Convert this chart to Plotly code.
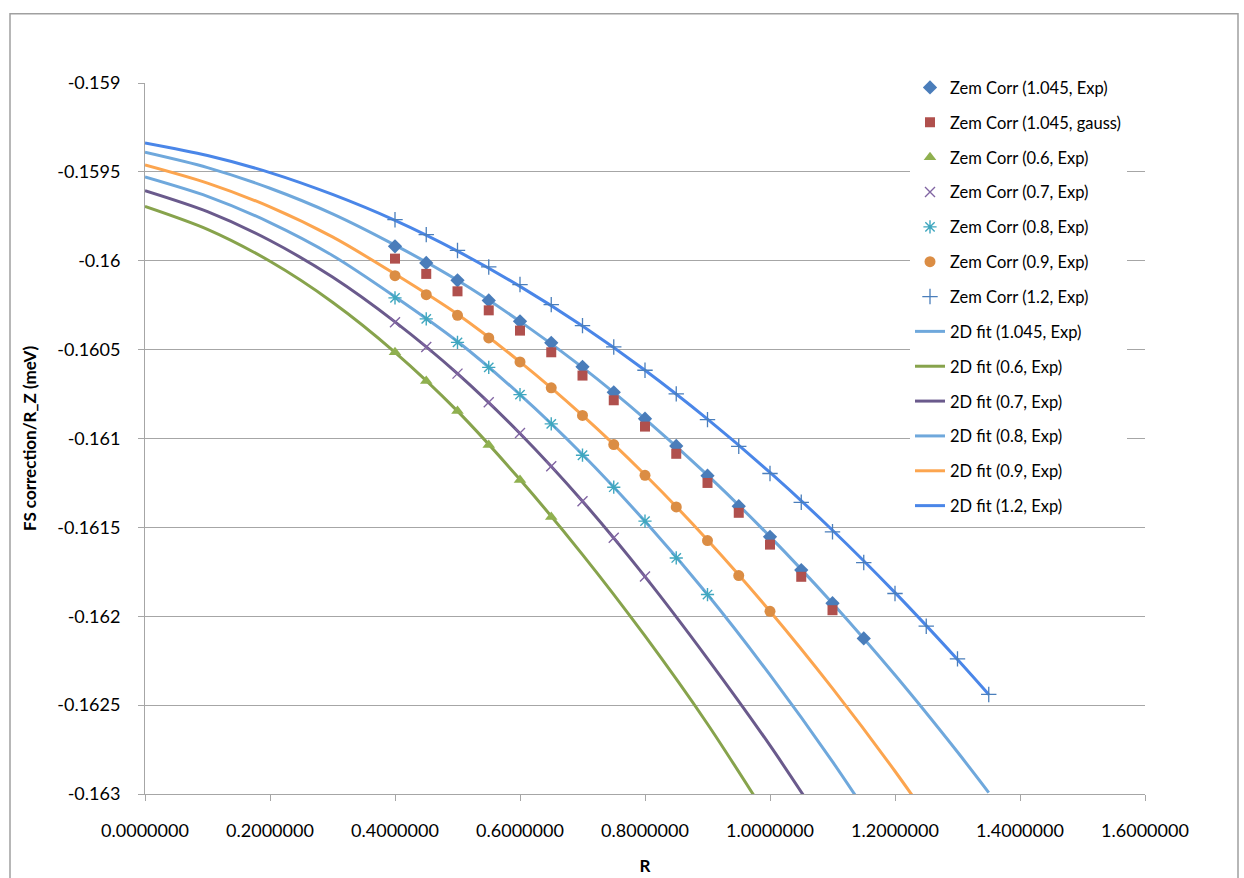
import plotly.graph_objects as go

# ---- Zeeman correction data points (R in fm-like units, value in meV) ----
r_1045_exp = [0.40, 0.45, 0.50, 0.55, 0.60, 0.65, 0.70, 0.75, 0.80, 0.85,
              0.90, 0.95, 1.00, 1.05, 1.10, 1.15]
zem_1045_exp = [-0.159919, -0.160012, -0.160110, -0.160223, -0.160341, -0.160462,
                -0.160597, -0.160740, -0.160889, -0.161042, -0.161209, -0.161381,
                -0.161553, -0.161740, -0.161927, -0.162125]

r_1045_gauss = [0.40, 0.45, 0.50, 0.55, 0.60, 0.65, 0.70, 0.75, 0.80, 0.85,
                0.90, 0.95, 1.00, 1.05, 1.10]
zem_1045_gauss = [-0.159988, -0.160074, -0.160172, -0.160279, -0.160393, -0.160515,
                  -0.160646, -0.160785, -0.160933, -0.161086, -0.161250, -0.161418,
                  -0.161597, -0.161778, -0.161966]

r_06_exp = [0.40, 0.45, 0.50, 0.55, 0.60, 0.65]
zem_06_exp = [-0.160515, -0.160676, -0.160845, -0.161037, -0.161234, -0.161442]

r_07_exp = [0.40, 0.45, 0.50, 0.55, 0.60, 0.65, 0.70, 0.75, 0.80]
zem_07_exp = [-0.160346, -0.160485, -0.160635, -0.160796, -0.160969, -0.161156,
              -0.161353, -0.161559, -0.161777]

r_08_exp = [0.40, 0.45, 0.50, 0.55, 0.60, 0.65, 0.70, 0.75, 0.80, 0.85, 0.90]
zem_08_exp = [-0.160209, -0.160327, -0.160459, -0.160600, -0.160753, -0.160918,
              -0.161094, -0.161274, -0.161465, -0.161672, -0.161878]

r_09_exp = [0.40, 0.45, 0.50, 0.55, 0.60, 0.65, 0.70, 0.75, 0.80, 0.85,
            0.90, 0.95, 1.00]
zem_09_exp = [-0.160084, -0.160191, -0.160307, -0.160434, -0.160569, -0.160715,
              -0.160870, -0.161034, -0.161207, -0.161385, -0.161574, -0.161771,
              -0.161972]

r_12_exp = [0.40, 0.45, 0.50, 0.55, 0.60, 0.65, 0.70, 0.75, 0.80, 0.85,
            0.90, 0.95, 1.00, 1.05, 1.10, 1.15, 1.20, 1.25, 1.30, 1.35]
zem_12_exp = [-0.159769, -0.159853, -0.159942, -0.160035, -0.160134, -0.160247,
              -0.160365, -0.160485, -0.160616, -0.160749, -0.160894, -0.161044,
              -0.161197, -0.161359, -0.161525, -0.161698, -0.161872, -0.162056,
              -0.162240, -0.162440]

# ---- 2D fit curves, tabulated on a common R grid ----
fit_r = [0.0, 0.1, 0.2, 0.3, 0.4, 0.5, 0.6, 0.7, 0.8, 0.9, 1.0, 1.1, 1.2, 1.3, 1.35]

fit_1045 = [-0.159390, -0.159476, -0.159592, -0.159736, -0.159912, -0.160110,
            -0.160341, -0.160600, -0.160889, -0.161206, -0.161552, -0.161927,
            -0.162331, -0.162764, -0.162992]
fit_06 = [-0.159694, -0.159823, -0.160003, -0.160233, -0.160515, -0.160846,
          -0.161231, -0.161653, -0.162111, -0.162606, -0.163151]
fit_07 = [-0.159606, -0.159724, -0.159886, -0.160092, -0.160344, -0.160635,
          -0.160972, -0.161353, -0.161777, -0.162238, -0.162727, -0.163256]
fit_08 = [-0.159529, -0.159638, -0.159785, -0.159970, -0.160202, -0.160454,
          -0.160753, -0.161090, -0.161466, -0.161878, -0.162330, -0.162818,
          -0.163345]
fit_09 = [-0.159461, -0.159563, -0.159697, -0.159866, -0.160075, -0.160301,
          -0.160569, -0.160870, -0.161204, -0.161571, -0.161972, -0.162406,
          -0.162872, -0.163373]
fit_12 = [-0.159337, -0.159408, -0.159504, -0.159627, -0.159773, -0.159946,
          -0.160144, -0.160367, -0.160616, -0.160891, -0.161191, -0.161516,
          -0.161867, -0.162243, -0.162440]

x_tick_vals = [0.0, 0.2, 0.4, 0.6, 0.8, 1.0, 1.2, 1.4, 1.6]
x_tick_text = ["0.0000000", "0.2000000", "0.4000000", "0.6000000", "0.8000000",
               "1.0000000", "1.2000000", "1.4000000", "1.6000000"]
y_tick_vals = [-0.159, -0.1595, -0.16, -0.1605, -0.161, -0.1615, -0.162, -0.1625, -0.163]
y_tick_text = ["-0.159", "-0.1595", "-0.16", "-0.1605", "-0.161", "-0.1615",
               "-0.162", "-0.1625", "-0.163"]

FONT = "Lato, 'Open Sans', sans-serif"
GRID = "#A6A6A6"

fig = go.Figure()

# fit curves first so the markers sit on top of them
fits = [
    ("2D fit (1.045, Exp)", fit_1045, "#6FA8DC", 8),
    ("2D fit (0.6, Exp)", fit_06, "#87A34C", 9),
    ("2D fit (0.7, Exp)", fit_07, "#6A5A8C", 10),
    ("2D fit (0.8, Exp)", fit_08, "#6FA8DC", 11),
    ("2D fit (0.9, Exp)", fit_09, "#FCA54F", 12),
    ("2D fit (1.2, Exp)", fit_12, "#4A86E8", 13),
]
for name, vals, color, rank in fits:
    fig.add_trace(go.Scatter(
        x=fit_r[:len(vals)], y=vals, name=name, mode="lines",
        line=dict(color=color, width=3, shape="spline", smoothing=0.8),
        legendrank=rank, legendgroup=name,
    ))

points = [
    ("Zem Corr (1.045, Exp)", r_1045_exp, zem_1045_exp,
     dict(symbol="diamond", size=11, color="#4A7DBA"), 1),
    ("Zem Corr (1.045, gauss)", r_1045_gauss, zem_1045_gauss,
     dict(symbol="square", size=10, color="#B0504D"), 2),
    ("Zem Corr (0.6, Exp)", r_06_exp, zem_06_exp,
     dict(symbol="triangle-up", size=11, color="#8FB04F"), 3),
    ("Zem Corr (0.7, Exp)", r_07_exp, zem_07_exp,
     dict(symbol="x-thin-open", size=10, color="#8064A2", line=dict(width=1.4, color="#8064A2")), 4),
    ("Zem Corr (0.8, Exp)", r_08_exp, zem_08_exp,
     dict(symbol="asterisk-open", size=11, color="#3FA7BF", line=dict(width=1.4, color="#3FA7BF")), 5),
    ("Zem Corr (0.9, Exp)", r_09_exp, zem_09_exp,
     dict(symbol="circle", size=11, color="#DB8D44"), 6),
    ("Zem Corr (1.2, Exp)", r_12_exp, zem_12_exp,
     dict(symbol="cross-thin-open", size=11, color="#4A7EBB", line=dict(width=1.3, color="#4A7EBB")), 7),
]
for name, xs, ys, marker, rank in points:
    fig.add_trace(go.Scatter(
        x=xs, y=ys, name=name, mode="markers", marker=marker,
        legendrank=rank, legendgroup=name,
    ))

fig.update_layout(
    width=1244, height=878,
    margin=dict(l=145, r=99, t=83, b=84),
    paper_bgcolor="white", plot_bgcolor="white",
    font=dict(family=FONT, size=16, color="black"),
    showlegend=True,
    legend=dict(
        x=0.765, y=1.018, xanchor="left", yanchor="top",
        bgcolor="white", borderwidth=0,
        font=dict(family=FONT, size=16.5, color="black"),
        traceorder="grouped", tracegroupgap=10.4, itemwidth=30,
        maxheight=700,
    ),
    xaxis=dict(
        range=[0, 1.6], tickvals=x_tick_vals, ticktext=x_tick_text,
        showgrid=False, zeroline=False, automargin=False,
        showline=True, linecolor=GRID, linewidth=1,
        ticks="outside", ticklen=6, tickcolor=GRID, tickwidth=1,
        tickfont=dict(family=FONT, size=18, color="black"),
        ticklabelstandoff=14,
        title=dict(text="<b>R</b>", font=dict(family=FONT, size=17), standoff=20),
    ),
    yaxis=dict(
        range=[-0.163, -0.159], tickvals=y_tick_vals, ticktext=y_tick_text,
        showgrid=True, gridcolor=GRID, gridwidth=1, zeroline=False, automargin=False,
        showline=True, linecolor=GRID, linewidth=1,
        ticks="outside", ticklen=6, tickcolor=GRID, tickwidth=1,
        tickfont=dict(family=FONT, size=18, color="black"),
        ticklabelstandoff=14,
        title=dict(text="<b>FS correction/R_Z (meV)</b>", font=dict(family=FONT, size=17), standoff=16),
    ),
    shapes=[dict(type="rect", xref="paper", yref="paper",
                 x0=-0.135, x1=1.093, y0=-0.14, y1=1.0975,
                 line=dict(color="#A0A0A0", width=1.5), fillcolor="rgba(0,0,0,0)",
                 layer="below")],
)

fig.write_html("out.html")
